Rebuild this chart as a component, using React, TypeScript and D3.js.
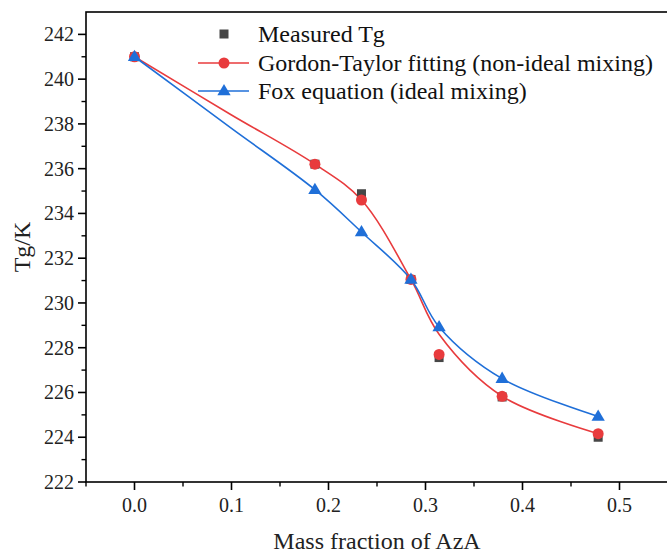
import React from 'react';
import * as d3 from 'd3';

// data
const massFraction = [0, 0.186, 0.234, 0.285, 0.314, 0.379, 0.478];
const measuredTg = [241.0, 236.2, 234.88, 231.05, 227.56, 225.8, 224.0];
const gordonTaylorTg = [241.0, 236.2, 234.6, 231.05, 227.7, 225.83, 224.16];
const foxTg = [241.0, 235.06, 233.17, 231.05, 228.93, 226.62, 224.93];
// drawn G-T fit line
const gtCurveX = [0, 0.1, 0.186, 0.234, 0.285, 0.314, 0.379, 0.478];
const gtCurveY = [241.0, 238.4, 236.2, 234.6, 231.05, 228.6, 225.83, 224.16];
// drawn Fox line
const foxCurveX = [0, 0.1, 0.186, 0.234, 0.285, 0.314, 0.379, 0.478];
const foxCurveY = [241.0, 237.8, 235.06, 233.17, 231.05, 228.93, 226.62, 224.93];

const xTicks = [0, 0.1, 0.2, 0.3, 0.4, 0.5];
const yTicks = [222, 224, 226, 228, 230, 232, 234, 236, 238, 240, 242];
const legendLabels = ['Measured Tg', 'Gordon-Taylor fitting (non-ideal mixing)', 'Fox equation (ideal mixing)'];

const W = 667;
const H = 553;
const margin = { left: 86, right: 668, top: 12, bottom: 482 };

const RED = '#e83b3d';
const BLUE = '#1f6fd8';
const GREY = '#464646';
const FONT = '"Liberation Serif", "Times New Roman", serif';

const App = () => {
  const x = d3.scaleLinear().domain([-0.05, 0.55]).range([margin.left, margin.right]);
  const y = d3.scaleLinear().domain([222, 243]).range([margin.bottom, margin.top]);

  const line = d3.line<[number, number]>()
    .x(d => x(d[0]))
    .y(d => y(d[1]))
    .curve(d3.curveCatmullRom.alpha(0.5));

  const gtPath = line(gtCurveX.map((v, i) => [v, gtCurveY[i]]));
  const foxPath = line(foxCurveX.map((v, i) => [v, foxCurveY[i]]));

  const xMinor = d3.range(-0.05, 0.551, 0.05).filter(v => Math.abs(Math.round(v * 10) - v * 10) > 0.01);
  const yMinor = d3.range(223, 243, 2);

  const tri = (cx: number, cy: number, s = 7) =>
    `M${cx},${cy - s}L${cx + s * 0.95},${cy + s * 0.62}L${cx - s * 0.95},${cy + s * 0.62}Z`;

  const legendX = 224;
  const legendRows = [34, 63, 91];

  return (
    <svg width={W} height={H} style={{ position: 'absolute', left: 0, top: 0, background: '#fff' }}>
      <rect x={0} y={0} width={W} height={H} fill="#fff" />

      {/* lines */}
      <path d={gtPath || ''} fill="none" stroke={RED} strokeWidth={1.6} />
      <path d={foxPath || ''} fill="none" stroke={BLUE} strokeWidth={1.6} />

      {/* markers */}
      {massFraction.map((v, i) => (
        <rect key={'m' + i} x={x(v) - 4.5} y={y(measuredTg[i]) - 4.5} width={9} height={9} fill={GREY} />
      ))}
      {massFraction.map((v, i) => (
        <circle key={'g' + i} cx={x(v)} cy={y(gordonTaylorTg[i])} r={5.5} fill={RED} />
      ))}
      {massFraction.map((v, i) => (
        <path key={'f' + i} d={tri(x(v), y(foxTg[i]))} fill={BLUE} />
      ))}

      {/* frame */}
      <rect x={margin.left} y={margin.top} width={margin.right - margin.left} height={margin.bottom - margin.top}
        fill="none" stroke="#000" strokeWidth={1.6} />

      {/* y axis */}
      {yTicks.map(t => (
        <g key={'yt' + t}>
          <line x1={margin.left - 8} x2={margin.left} y1={y(t)} y2={y(t)} stroke="#000" strokeWidth={1.6} />
          <text x={margin.left - 12} y={y(t)} dy="0.35em" textAnchor="end" fontFamily={FONT} fontSize={20} fill="#222">{t}</text>
        </g>
      ))}
      {yMinor.map(t => (
        <line key={'ym' + t} x1={margin.left - 4.5} x2={margin.left} y1={y(t)} y2={y(t)} stroke="#000" strokeWidth={1.4} />
      ))}

      {/* x axis */}
      {xTicks.map(t => (
        <g key={'xt' + t}>
          <line x1={x(t)} x2={x(t)} y1={margin.bottom} y2={margin.bottom + 8} stroke="#000" strokeWidth={1.6} />
          <text x={x(t)} y={margin.bottom + 30} textAnchor="middle" fontFamily={FONT} fontSize={20} fill="#222">{t.toFixed(1)}</text>
        </g>
      ))}
      {xMinor.map(t => (
        <line key={'xm' + t} x1={x(t)} x2={x(t)} y1={margin.bottom} y2={margin.bottom + 4.5} stroke="#000" strokeWidth={1.4} />
      ))}

      {/* axis titles */}
      <text x={(margin.left + margin.right) / 2} y={549} textAnchor="middle" fontFamily={FONT} fontSize={24} fill="#222">Mass fraction of AzA</text>
      <text transform={`translate(30,${(margin.top + margin.bottom) / 2}) rotate(-90)`} textAnchor="middle" fontFamily={FONT} fontSize={24} fill="#222">Tg/K</text>

      {/* legend */}
      <rect x={legendX - 4.5} y={legendRows[0] - 4.5} width={9} height={9} fill={GREY} />
      <line x1={legendX - 26} x2={legendX + 25} y1={legendRows[1]} y2={legendRows[1]} stroke={RED} strokeWidth={1.6} />
      <circle cx={legendX} cy={legendRows[1]} r={5.5} fill={RED} />
      <line x1={legendX - 26} x2={legendX + 25} y1={legendRows[2]} y2={legendRows[2]} stroke={BLUE} strokeWidth={1.6} />
      <path d={tri(legendX, legendRows[2])} fill={BLUE} />
      {legendLabels.map((s, i) => (
        <text key={s} x={258} y={legendRows[i]} dy="0.35em" fontFamily={FONT} fontSize={24} fill="#111">{s}</text>
      ))}
    </svg>
  );
};

export default App;
